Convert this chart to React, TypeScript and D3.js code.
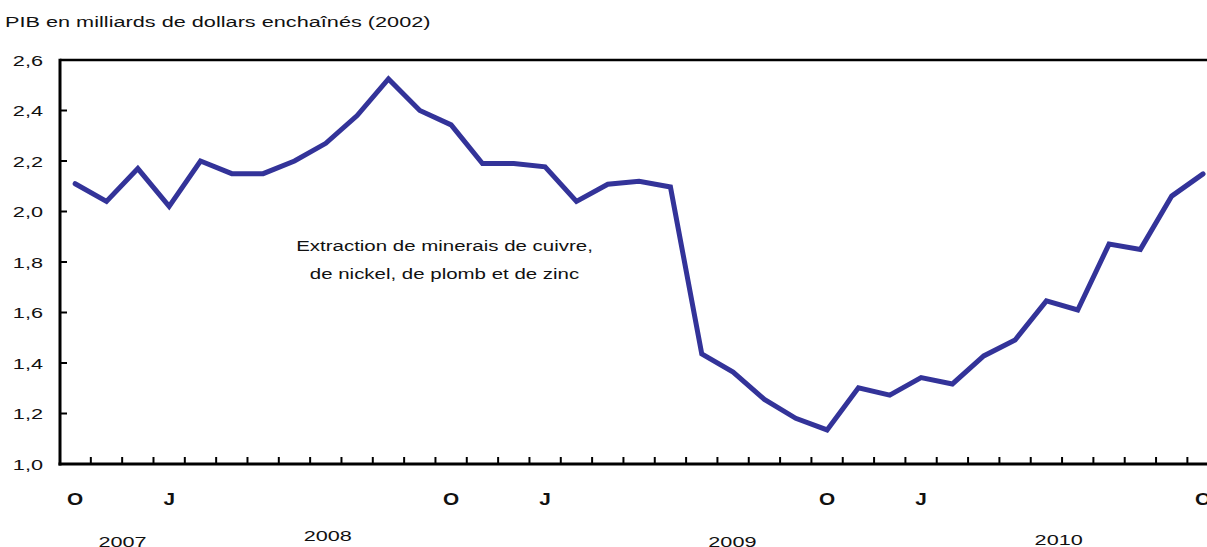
import React from "react";
import * as d3 from "d3";

const months: string[] = [
  "2007-10","2007-11","2007-12","2008-01","2008-02","2008-03","2008-04","2008-05","2008-06","2008-07","2008-08","2008-09",
  "2008-10","2008-11","2008-12","2009-01","2009-02","2009-03","2009-04","2009-05","2009-06","2009-07","2009-08","2009-09",
  "2009-10","2009-11","2009-12","2010-01","2010-02","2010-03","2010-04","2010-05","2010-06","2010-07","2010-08","2010-09",
  "2010-10",
];

const gdp: number[] = [
  2.11, 2.04, 2.17, 2.02, 2.20, 2.15, 2.15, 2.20, 2.27, 2.38, 2.525, 2.40,
  2.343, 2.19, 2.19, 2.177, 2.04, 2.108, 2.12, 2.097, 1.436, 1.364, 1.256, 1.181,
  1.135, 1.302, 1.273, 1.342, 1.317, 1.428, 1.491, 1.646, 1.61, 1.871, 1.85, 2.061,
  2.149,
];

const yTicks: number[] = [1.0, 1.2, 1.4, 1.6, 1.8, 2.0, 2.2, 2.4, 2.6];

const monthLabels: { month: string; label: string }[] = [
  { month: "2007-10", label: "O" },
  { month: "2008-01", label: "J" },
  { month: "2008-10", label: "O" },
  { month: "2009-01", label: "J" },
  { month: "2009-10", label: "O" },
  { month: "2010-01", label: "J" },
  { month: "2010-10", label: "O" },
];

const yearLabels: { year: string; month: string; dx: number; y: number }[] = [
  { year: "2007", month: "2007-11", dx: 16, y: 547 },
  { year: "2008", month: "2008-06", dx: 2, y: 541 },
  { year: "2009", month: "2009-08", dx: -32, y: 547 },
  { year: "2010", month: "2010-06", dx: -19, y: 545 },
];

const title = "PIB en milliards de dollars enchaînés (2002)";
const annotation = ["Extraction de minerais de cuivre,", "de nickel, de plomb et de zinc"];

const FONT = "'Liberation Sans', Arial, Helvetica, sans-serif";

function SText(props: {
  x: number;
  y: number;
  sx?: number;
  size?: number;
  anchor?: "start" | "middle" | "end";
  bold?: boolean;
  children: React.ReactNode;
}) {
  const { x, y, sx = 1.4, size = 15.5, anchor = "start", bold = false, children } = props;
  return (
    <text
      transform={`translate(${x},${y}) scale(${sx},1)`}
      fontSize={size}
      fontWeight={bold ? "bold" : "normal"}
      textAnchor={anchor}
      fill="#111"
      fontFamily={FONT}
    >
      {children}
    </text>
  );
}

export default function App() {
  const W = 1207;
  const H = 547;
  const left = 59.5;
  const step = 31.33;
  const top = 60;
  const bottom = 464;

  const x = d3
    .scaleBand<string>()
    .domain(months)
    .range([left, left + step * months.length])
    .paddingInner(0)
    .paddingOuter(0);
  const y = d3.scaleLinear().domain([1.0, 2.6]).range([bottom, top]);

  const cx = (m: string) => (x(m) as number) + x.bandwidth() / 2;

  const line = d3
    .line<number>()
    .x((_, i) => cx(months[i]))
    .y((d) => y(d))
    .curve(d3.curveLinear);

  const xTickPositions = months.slice(1).map((m) => x(m) as number);

  return (
    <svg
      width={W}
      height={H}
      style={{ position: "absolute", left: 0, top: 0, background: "#fff" }}
      fontFamily={FONT}
    >
      <SText x={5} y={27}>{title}</SText>

      {/* y tick labels */}
      {yTicks.map((t) => (
        <SText key={t} x={43} y={y(t) + 5.5} anchor="end">
          {t.toFixed(1).replace(".", ",")}
        </SText>
      ))}

      {/* y ticks */}
      {yTicks.slice(1, -1).map((t) => (
        <line key={t} x1={60} x2={67} y1={y(t)} y2={y(t)} stroke="#000" strokeWidth={2} />
      ))}

      {/* x ticks */}
      {xTickPositions.map((p, i) => (
        <line key={i} x1={p} x2={p} y1={bottom} y2={bottom - 7} stroke="#000" strokeWidth={2} />
      ))}

      {/* frame */}
      <line x1={60} x2={W} y1={top} y2={top} stroke="#000" strokeWidth={2.5} />
      <line x1={60} x2={60} y1={top - 1.25} y2={bottom + 1.5} stroke="#000" strokeWidth={3} />
      <line x1={58.5} x2={W} y1={bottom} y2={bottom} stroke="#000" strokeWidth={3} />

      {/* series */}
      <path
        d={line(gdp) || ""}
        fill="none"
        stroke="#333399"
        strokeWidth={5}
        strokeLinejoin="miter"
        strokeLinecap="round"
      />

      {/* annotation */}
      {annotation.map((s, i) => (
        <SText key={i} x={444.5} y={250.5 + i * 28} anchor="middle" sx={1.32}>
          {s}
        </SText>
      ))}

      {/* month labels */}
      {monthLabels.map((d) => (
        <SText key={d.month} x={cx(d.month)} y={504.5} anchor="middle" bold sx={1.3} size={16}>
          {d.label}
        </SText>
      ))}

      {/* year labels */}
      {yearLabels.map((d) => (
        <SText key={d.year} x={cx(d.month) + d.dx} y={d.y} anchor="middle">
          {d.year}
        </SText>
      ))}
    </svg>
  );
}
